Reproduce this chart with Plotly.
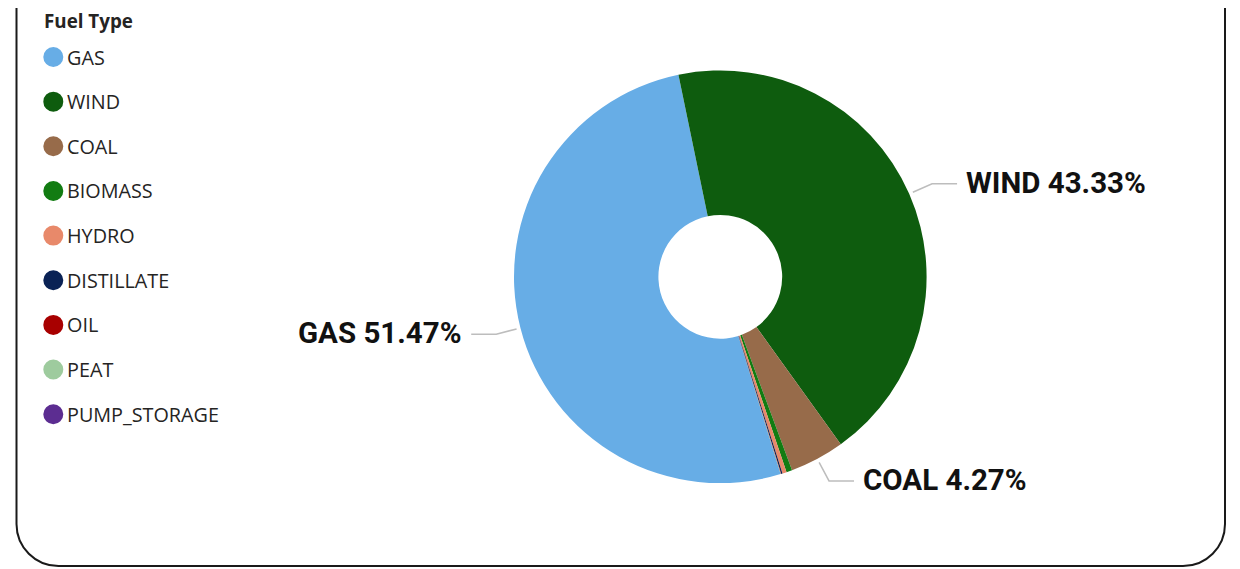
import math
import plotly.graph_objects as go

# ---- data ----
fuel_types = ["GAS", "WIND", "COAL", "BIOMASS", "HYDRO", "DISTILLATE", "OIL", "PEAT", "PUMP_STORAGE"]
share_pct = [51.47, 43.33, 4.27, 0.45, 0.33, 0.10, 0.03, 0.02, 0.00]
colors = ["#67ADE6", "#0E5C0E", "#976B4A", "#127C12", "#E8896A", "#0A2255", "#A80000", "#9ECB9E", "#5C2D91"]
legend_title = "Fuel Type"

W, H = 1240, 569
OFF = 8.0                            # page body margin offset
CX, CY, R = 720.3, 276.8, 206.3      # pie centre / radius in screen px
HOLE = 0.30
ROT = 163.0                          # start angle (deg clockwise from 12 o'clock)
LABEL_MIN = 1.0                      # only label slices bigger than this (%)


def px(x):
    return (x - OFF) / W


def py(y):
    return 1 - (y - OFF) / H


fig = go.Figure()
fig.add_trace(go.Pie(
    labels=fuel_types,
    values=share_pct,
    marker=dict(colors=colors, line=dict(width=0)),
    hole=HOLE,
    sort=False,
    direction="clockwise",
    rotation=ROT,
    textinfo="none",
    hovertemplate="%{label}: %{value:.2f}%<extra></extra>",
    domain=dict(x=[px(CX - R), px(CX + R)], y=[py(CY + R), py(CY - R)]),
    showlegend=False,
))

shapes = []
annotations = []

# ---- outside labels with leader lines ----
total = sum(share_pct)
ang = ROT
for lab, v in zip(fuel_types, share_pct):
    span = v / total * 360
    mid = math.radians(ang + span / 2)
    ang += span
    if v < LABEL_MIN:
        continue
    s, c = math.sin(mid), math.cos(mid)
    x0, y0 = CX + (R + 4) * s, CY - (R + 4) * c
    x1, y1 = CX + (R + 25) * s, CY - (R + 25) * c
    side = 1 if s >= 0 else -1
    x2 = x1 + side * 25
    shapes.append(dict(type="path", xref="paper", yref="paper",
                       path=f"M {px(x0)},{py(y0)} L {px(x1)},{py(y1)} L {px(x2)},{py(y1)}",
                       line=dict(color="#BDBDBD", width=1.5)))
    annotations.append(dict(
        xref="paper", yref="paper", x=px(x2 + side * 7), y=py(y1 - 1),
        xanchor="left" if side > 0 else "right", yanchor="middle",
        text=f"<b>{lab} {v:.2f}%</b>", showarrow=False,
        font=dict(family="Roboto", size=29.5, color="#111111"),
    ))

# ---- legend (manual, Power BI style) ----
LX, LY0, LDY, LRAD = 53.3, 57.0, 44.65, 10.0
annotations.append(dict(
    xref="paper", yref="paper", x=px(42), y=py(21.5), xanchor="left", yanchor="middle",
    text=f"<b>{legend_title}</b>", showarrow=False,
    font=dict(family="Open Sans", size=18.8, color="#252423"),
))
for i, (lab, col) in enumerate(zip(fuel_types, colors)):
    yc = LY0 + i * LDY
    shapes.append(dict(type="circle", xref="paper", yref="paper",
                       x0=px(LX - LRAD), x1=px(LX + LRAD), y0=py(yc + LRAD), y1=py(yc - LRAD),
                       fillcolor=col, line=dict(width=0)))
    annotations.append(dict(
        xref="paper", yref="paper", x=px(64.5), y=py(yc), xanchor="left", yanchor="middle",
        text=lab, showarrow=False,
        font=dict(family="Open Sans", size=19.8, color="#252423"),
    ))

# ---- card border (rounded, top edge outside view) ----
L, Rt, B, CR = 16.5, 1225.0, 566.0, 42.0
k = 0.5523 * CR
border = (f"M {px(L)},{py(-20)} L {px(L)},{py(B - CR)} "
          f"C {px(L)},{py(B - CR + k)} {px(L + CR - k)},{py(B)} {px(L + CR)},{py(B)} "
          f"L {px(Rt - CR)},{py(B)} "
          f"C {px(Rt - CR + k)},{py(B)} {px(Rt)},{py(B - CR + k)} {px(Rt)},{py(B - CR)} "
          f"L {px(Rt)},{py(-20)}")
shapes.append(dict(type="path", xref="paper", yref="paper", path=border,
                   line=dict(color="#1A1A1A", width=2)))

fig.update_layout(
    width=W, height=H,
    margin=dict(l=0, r=0, t=0, b=0),
    paper_bgcolor="white", plot_bgcolor="white",
    showlegend=False,
    shapes=shapes,
    annotations=annotations,
)

fig.write_html("out.html")
